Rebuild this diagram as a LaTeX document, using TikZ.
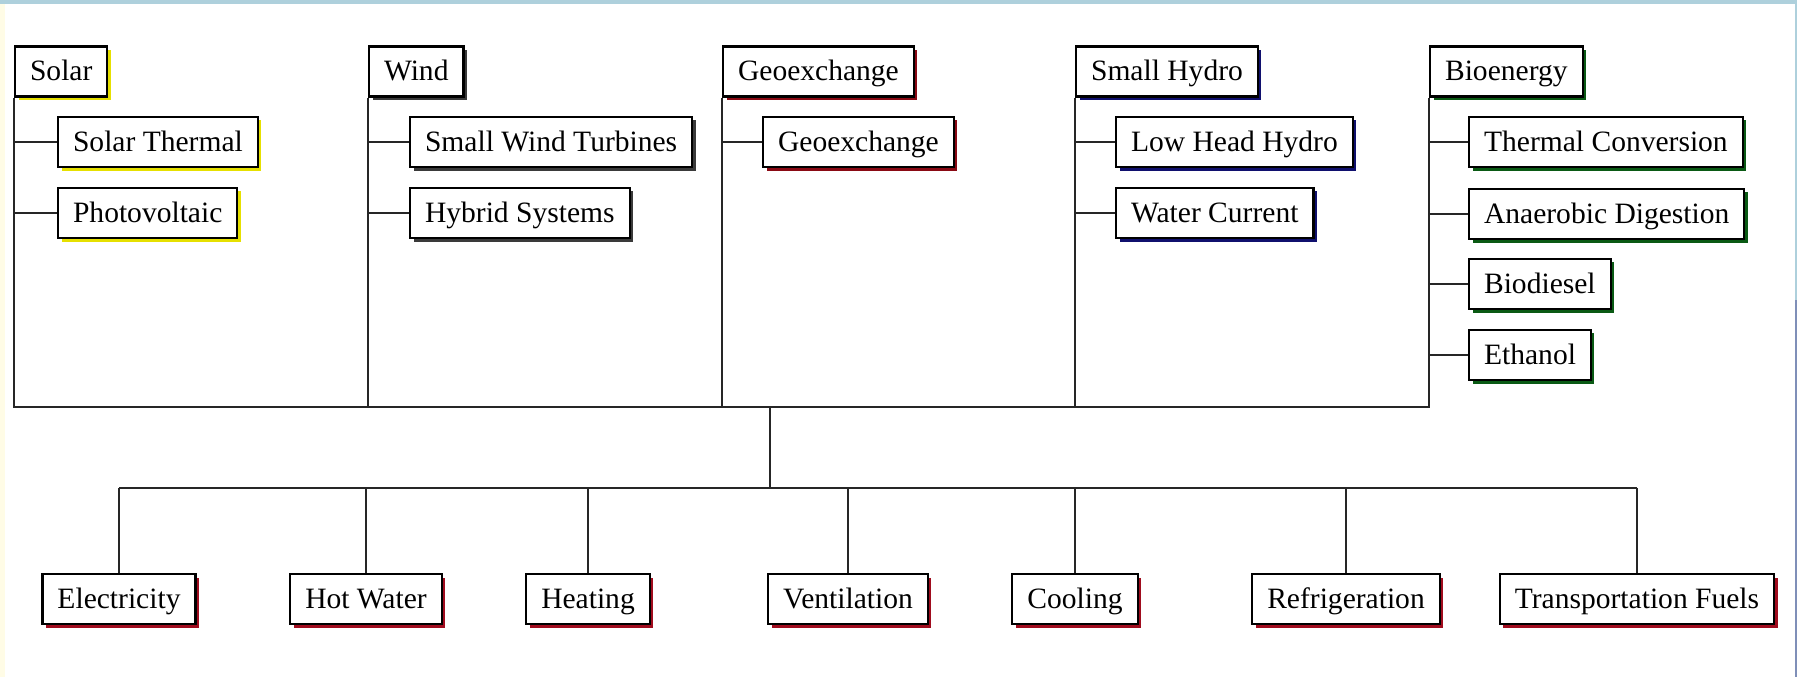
\documentclass[tikz,border=0pt]{standalone}
\usepackage{fontspec}
\setmainfont{Liberation Serif}
\usetikzlibrary{shadows}

\definecolor{edgeblue}{HTML}{AED0DC}
\definecolor{edgeslate}{HTML}{7F8FB8}
\definecolor{edgecream}{HTML}{FFFCE6}
\definecolor{solarshade}{HTML}{E6E000}
\definecolor{windshade}{HTML}{3A3A3A}
\definecolor{geoshade}{HTML}{8A0A14}
\definecolor{hydroshade}{HTML}{10106E}
\definecolor{bioshade}{HTML}{0A5A14}
\definecolor{useshade}{HTML}{A00C1E}

\tikzset{
	box/.style={ draw, fill=white, line width=0.6pt, minimum height=0.5cm,
		inner xsep=0.15cm, inner ysep=0pt, text height=1.6ex, text depth=0.45ex,
		font=\fontsize{8.4}{10}\selectfont },
	shade/.style={ drop shadow={ shadow xshift=0.035cm, shadow yshift=-0.035cm,
		fill=#1, opacity=1 } },
	link/.style={ line width=0.6pt, draw=black!85 }
}

\begin{document}
\begin{tikzpicture}[x=0.01cm, y=-0.01cm]
	\label{tikz:renewables}
	% Page edges
	\useasboundingbox (0,0) rectangle (1797,677);
	\fill[ white ] (0,0) rectangle (1797,677);
	\fill[ edgecream ] (0,0) rectangle (5,677);
	\fill[ edgeblue ] (0,0) rectangle (1797,4);
	\fill[ edgeblue ] (1795,0) rectangle (1797,300);
	\fill[ edgeslate ] (1795,300) rectangle (1797,677);
	% Solar
	\node[ box, shade=solarshade, anchor=west ] (solar) at (14,71.5) {Solar};
	\node[ box, shade=solarshade, anchor=west ] (solarthermal) at (57,142) {Solar Thermal};
	\node[ box, shade=solarshade, anchor=west ] (photovoltaic) at (57,213) {Photovoltaic};
	% Wind
	\node[ box, shade=windshade, anchor=west ] (wind) at (368,71.5) {Wind};
	\node[ box, shade=windshade, anchor=west ] (smallwind) at (409,142) {Small Wind Turbines};
	\node[ box, shade=windshade, anchor=west ] (hybrid) at (409,213) {Hybrid Systems};
	% Geoexchange
	\node[ box, shade=geoshade, anchor=west ] (geo) at (722,71.5) {Geoexchange};
	\node[ box, shade=geoshade, anchor=west ] (geoexchange) at (762,142) {Geoexchange};
	% Small hydro
	\node[ box, shade=hydroshade, anchor=west ] (hydro) at (1075,71.5) {Small Hydro};
	\node[ box, shade=hydroshade, anchor=west ] (lowhead) at (1115,142) {Low Head Hydro};
	\node[ box, shade=hydroshade, anchor=west ] (current) at (1115,213) {Water Current};
	% Bioenergy
	\node[ box, shade=bioshade, anchor=west ] (bio) at (1429,71.5) {Bioenergy};
	\node[ box, shade=bioshade, anchor=west ] (thermal) at (1468,142) {Thermal Conversion};
	\node[ box, shade=bioshade, anchor=west ] (anaerobic) at (1468,214) {Anaerobic Digestion};
	\node[ box, shade=bioshade, anchor=west ] (biodiesel) at (1468,284) {Biodiesel};
	\node[ box, shade=bioshade, anchor=west ] (ethanol) at (1468,355) {Ethanol};
	% Frame joining the sources
	\coordinate (base) at (0,407);
	\draw[ link ] (solar.south west) -- (solar.south west |- base)
		-- (bio.south west |- base) -- (bio.south west);
	\foreach \src in {wind, geo, hydro}
		\draw[ link ] (\src.south west) -- (\src.south west |- base);
	\foreach \src/\kid in {solar/solarthermal, solar/photovoltaic, wind/smallwind,
		wind/hybrid, geo/geoexchange, hydro/lowhead, hydro/current,
		bio/thermal, bio/anaerobic, bio/biodiesel, bio/ethanol}
		\draw[ link ] (\kid.west -| \src.west) -- (\kid.west);
	% End uses
	\node[ box, shade=useshade, anchor=north ] (electricity) at (119,573) {Electricity};
	\node[ box, shade=useshade, anchor=north ] (hotwater) at (366,573) {Hot Water};
	\node[ box, shade=useshade, anchor=north ] (heating) at (588,573) {Heating};
	\node[ box, shade=useshade, anchor=north ] (ventilation) at (848,573) {Ventilation};
	\node[ box, shade=useshade, anchor=north ] (cooling) at (1075,573) {Cooling};
	\node[ box, shade=useshade, anchor=north ] (refrigeration) at (1346,573) {Refrigeration};
	\node[ box, shade=useshade, anchor=north ] (fuels) at (1637,573) {Transportation Fuels};
	% Bus to the end uses
	\coordinate (hub) at (770,407);
	\coordinate (bus) at (770,488);
	\draw[ link ] (hub) -- (bus);
	\draw[ link ] (electricity.north |- bus) -- (fuels.north |- bus);
	\foreach \use in {electricity, hotwater, heating, ventilation, cooling,
		refrigeration, fuels}
		\draw[ link ] (\use.north |- bus) -- (\use.north);
\end{tikzpicture}
\end{document}
